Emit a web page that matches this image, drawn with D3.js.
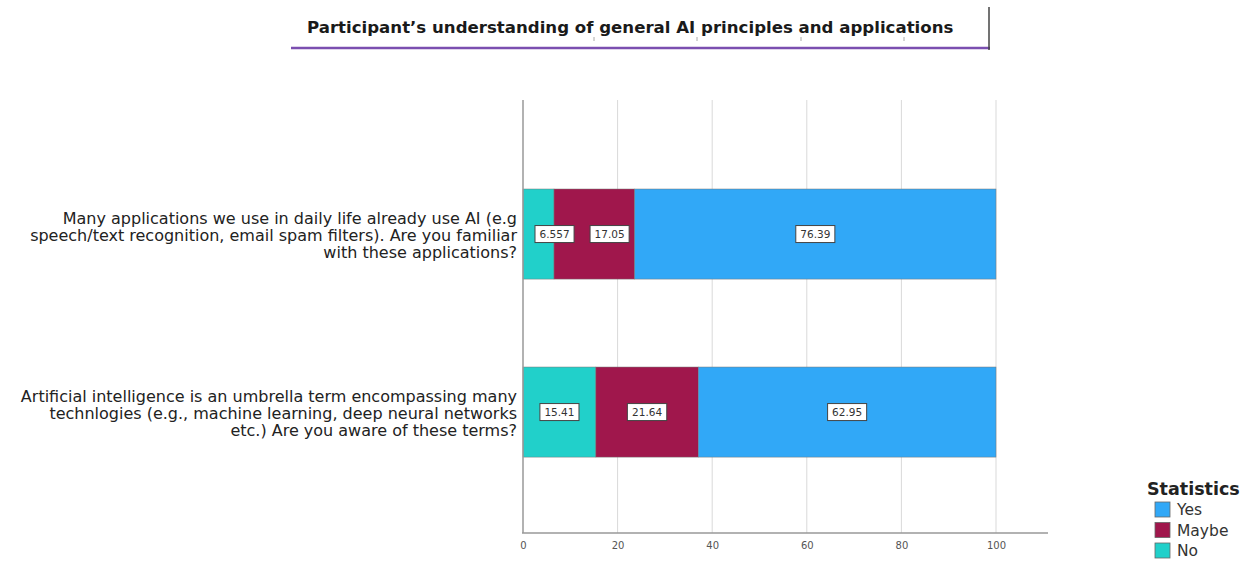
<!DOCTYPE html>
<html><head><meta charset="utf-8">
<script src="https://cdn.jsdelivr.net/npm/d3@7/dist/d3.min.js"></script>
<style>body{margin:0;background:#fff}</style>
</head><body>
<svg id="c" width="1250" height="561"></svg>
<script>
const titleText = "Participant\u2019s understanding of general AI principles and applications";
const categories = [
  ["Many applications we use in daily life already use AI (e.g", "speech/text recognition, email spam filters). Are you familiar", "with these applications?"],
  ["Artificial intelligence is an umbrella term encompassing many", "technlogies (e.g., machine learning, deep neural networks", "etc.) Are you aware of these terms?"]
];
const seriesNames = ["No", "Maybe", "Yes"];
const noValues = [6.557, 15.41];
const maybeValues = [17.05, 21.64];
const yesValues = [76.39, 62.95];
const valueLabels = [["6.557", "17.05", "76.39"], ["15.41", "21.64", "62.95"]];
const xTicks = [0, 20, 40, 60, 80, 100];
const legendOrder = ["Yes", "Maybe", "No"];
const colors = {No: "#21D0CA", Maybe: "#A0174C", Yes: "#31A8F7"};

const svg = d3.select("#c");
const font = "'DejaVu Sans', sans-serif";

// Title
svg.append("text").attr("x", 307).attr("y", 33).attr("text-anchor", "start")
  .attr("font-family", font).attr("font-weight", "bold").attr("font-size", 16.6)
  .attr("fill", "#1a1a1a").text(titleText);
svg.append("line").attr("x1", 291).attr("x2", 990).attr("y1", 48).attr("y2", 48)
  .attr("stroke", "#7B4FB0").attr("stroke-width", 2.5);
svg.append("line").attr("x1", 989).attr("x2", 989).attr("y1", 7).attr("y2", 50)
  .attr("stroke", "#444").attr("stroke-width", 1.5);
[594, 697, 801, 904].forEach(x => svg.append("line").attr("x1", x).attr("x2", x)
  .attr("y1", 37).attr("y2", 41).attr("stroke", "#aaa").attr("stroke-width", 1));

// Scales
const x = d3.scaleLinear().domain([0, 100]).range([523, 996]);
const y = d3.scaleBand().domain(d3.range(categories.length)).range([144.5, 501.6])
  .paddingInner(0.494).paddingOuter(0.25);
const plotTop = 100, plotBottom = 533, axisEnd = 1048;

// Gridlines
svg.append("g").selectAll("line").data(xTicks.filter(t => t > 0)).join("line")
  .attr("x1", d => x(d)).attr("x2", d => x(d)).attr("y1", plotTop).attr("y2", plotBottom)
  .attr("stroke", "#d9d9d9").attr("stroke-width", 1);

// Stack
const rows = categories.map((c, i) => ({i, No: noValues[i], Maybe: maybeValues[i], Yes: yesValues[i]}));
const stack = d3.stack().keys(seriesNames)(rows);
const g = svg.append("g");
stack.forEach(layer => {
  g.selectAll(null).data(layer).join("rect")
    .attr("x", d => x(d[0])).attr("width", d => x(d[1]) - x(d[0]))
    .attr("y", d => y(d.data.i)).attr("height", y.bandwidth())
    .attr("fill", colors[layer.key]).attr("stroke", "#777").attr("stroke-width", 0.5);
});

// Value labels (centered, nudged to avoid clipping/overlap)
categories.forEach((c, i) => {
  const cy = y(i) + y.bandwidth() / 2;
  let prevRight = x(0) + 12 - 16;
  stack.forEach((layer, li) => {
    const d = layer[i];
    const cx = (x(d[0]) + x(d[1])) / 2;
    const t = svg.append("text").attr("y", cy + 4).attr("text-anchor", "middle")
      .attr("font-family", font).attr("font-size", 10.5).attr("fill", "#333").text(valueLabels[i][li]);
    t.attr("x", cx);
    let bb = t.node().getBBox();
    const w = bb.width + 9;
    let left = cx - w / 2;
    if (left < prevRight + 16) left = prevRight + 16;
    t.attr("x", left + w / 2);
    prevRight = left + w;
    svg.insert("rect", () => t.node()).attr("x", left).attr("y", cy - 8.5).attr("width", w).attr("height", 17)
      .attr("fill", "#fff").attr("stroke", "#444").attr("stroke-width", 1);
  });
});

// Axes lines
svg.append("line").attr("x1", 523).attr("x2", 523).attr("y1", plotTop).attr("y2", plotBottom)
  .attr("stroke", "#999").attr("stroke-width", 1.5);
svg.append("line").attr("x1", 522).attr("x2", axisEnd).attr("y1", plotBottom).attr("y2", plotBottom)
  .attr("stroke", "#999").attr("stroke-width", 1.5);

// X axis tick labels
const xAxis = d3.axisBottom(x).tickValues(xTicks).tickSize(0).tickPadding(9);
const ax = svg.append("g").attr("transform", `translate(0,${plotBottom})`).call(xAxis);
ax.select(".domain").remove();
ax.selectAll("text").attr("font-family", font).attr("font-size", 10).attr("fill", "#555");

// Category labels
categories.forEach((lines, i) => {
  const cy = y(i) + y.bandwidth() / 2;
  const t = svg.append("text").attr("text-anchor", "end").attr("font-family", font)
    .attr("font-size", 16).attr("fill", "#222");
  lines.forEach((ln, k) => t.append("tspan").attr("x", 517).attr("y", cy + 6.5 + (k - 1) * 17).text(ln));
});

// Legend
svg.append("text").attr("x", 1147).attr("y", 495).attr("font-family", font).attr("font-weight", "bold")
  .attr("font-size", 17.5).attr("fill", "#222").text("Statistics");
legendOrder.forEach((k, i) => {
  const yy = 502 + i * 20.5;
  svg.append("rect").attr("x", 1155).attr("y", yy).attr("width", 15).attr("height", 15)
    .attr("fill", colors[k]).attr("stroke", "#666").attr("stroke-width", 0.8);
  svg.append("text").attr("x", 1177).attr("y", yy + 13).attr("font-family", font)
    .attr("font-size", 15.5).attr("fill", "#333").text(k);
});
</script>
</body></html>
